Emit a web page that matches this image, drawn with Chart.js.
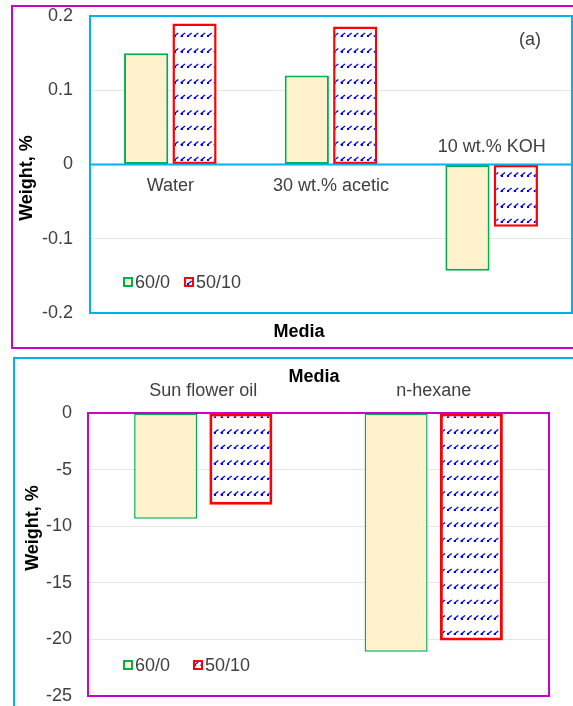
<!DOCTYPE html>
<html>
<head>
<meta charset="utf-8">
<script src="https://cdn.jsdelivr.net/npm/chart.js@4.4.1/dist/chart.umd.min.js"></script>
<style>
  html, body { margin: 0; padding: 0; background: #fff; overflow: hidden; width: 573px; height: 706px; }
  .frame { position: absolute; box-sizing: border-box; border: 2px solid; }
  #frameTop { left: 11px; top: 5px; width: 700px; height: 344px; border-color: #cc00cc; }
  #frameBottom { left: 13px; top: 357px; width: 700px; height: 500px; border-color: #00b0f0; }
  canvas { position: absolute; left: 0; }
  #chartTop { top: 0; }
  #chartBottom { top: 350px; }
</style>
</head>
<body>
<div class="frame" id="frameTop"></div>
<div class="frame" id="frameBottom"></div>
<canvas id="chartTop" width="573" height="350"></canvas>
<canvas id="chartBottom" width="573" height="356"></canvas>
<script>
const FONT = "'Liberation Sans', Arial, sans-serif";
const TEXT = '#404040';

// (a) aqueous media
const mediaTop = ['Water', '30 wt.% acetic', '10 wt.% KOH'];
const top600 = [0.15, 0.12, -0.143];
const top5010 = [0.19, 0.186, -0.084];
const ticksTop = [-0.2, -0.1, 0, 0.1, 0.2];

// oils / solvents
const mediaBottom = ['Sun flower oil', 'n-hexane'];
const bottom600 = [-9.35, -21.1];
const bottom5010 = [-8.1, -20.1];
const ticksBottom = [-25, -20, -15, -10, -5, 0];

const seriesNames = ['60/0', '50/10'];

// blue dash pattern used by the 50/10 bars
function hatch(target) {
  const c = document.createElement('canvas');
  c.width = 20; c.height = 31;
  const g = c.getContext('2d');
  g.fillStyle = '#fff';
  g.fillRect(0, 0, 20, 31);
  g.strokeStyle = '#0000ff';
  g.fillStyle = '#0000ff';
  g.lineWidth = 1.3;
  for (const y0 of [2, 17.5]) {
    for (const x0 of [0.5, 7.2, 13.8]) {
      g.beginPath();
      g.moveTo(x0, y0 + 3.5);
      g.lineTo(x0 + 4.5, y0);
      g.stroke();
      g.fillRect(Math.round(x0), Math.round(y0 + 2), 2, 2);
    }
  }
  return target.getContext('2d').createPattern(c, 'repeat');
}

// frame, zero line, category labels, titles and legend
const decor = {
  id: 'decor',
  afterDatasetsDraw(chart, args, o) {
    const { ctx, chartArea: a, scales: { x, y } } = chart;
    ctx.save();
    const zero = y.getPixelForValue(0);
    if (o.zeroLine) {
      ctx.strokeStyle = o.frame;
      ctx.lineWidth = 2;
      ctx.beginPath();
      ctx.moveTo(a.left, zero);
      ctx.lineTo(a.right, zero);
      ctx.stroke();
    }
    ctx.strokeStyle = o.frame;
    ctx.lineWidth = 2;
    ctx.strokeRect(a.left, a.top, a.right - a.left, a.bottom - a.top);

    ctx.font = `18px ${FONT}`;
    ctx.fillStyle = TEXT;
    ctx.textAlign = 'center';
    ctx.textBaseline = 'middle';
    chart.data.labels.forEach((lab, i) => {
      const vals = chart.data.datasets.map(d => d.data[i]);
      let ly;
      if (o.labelsAbove) ly = a.top - 22;
      else ly = vals.every(v => v < 0) ? zero - 17 : zero + 22;
      ctx.fillText(lab, x.getPixelForValue(i), ly);
    });

    if (o.tag) ctx.fillText(o.tag, o.tagPos[0], o.tagPos[1]);

    ctx.font = `bold 18px ${FONT}`;
    ctx.fillStyle = '#000';
    ctx.fillText('Media', o.mediaPos[0], o.mediaPos[1]);
    ctx.save();
    ctx.translate(o.weightPos[0], o.weightPos[1]);
    ctx.rotate(-Math.PI / 2);
    ctx.fillText('Weight, %', 0, 0);
    ctx.restore();

    // legend
    ctx.font = `18px ${FONT}`;
    ctx.textAlign = 'left';
    chart.data.datasets.forEach((d, i) => {
      const bx = o.legendX[i];
      const by = o.legendY;
      ctx.fillStyle = d.backgroundColor;
      ctx.fillRect(bx, by - 5, 10, 10);
      ctx.strokeStyle = d.borderColor;
      ctx.lineWidth = 2;
      ctx.strokeRect(bx + 1, by - 4, 8, 8);
      ctx.fillStyle = TEXT;
      ctx.fillText(d.label, bx + 12, by + 1);
    });
    ctx.restore();
  }
};

function criarGrafico(canvasId, labels, a, b, ticks, opts) {
  const canvas = document.getElementById(canvasId);
  const min = ticks[0];
  const max = ticks[ticks.length - 1];
  return new Chart(canvas, {
    type: 'bar',
    data: {
      labels: labels,
      datasets: [{
        label: seriesNames[0],
        data: a,
        backgroundColor: '#fff2cc',
        borderColor: '#00b050',
        borderWidth: opts.greenWidth,
        borderSkipped: false
      }, {
        label: seriesNames[1],
        data: b,
        backgroundColor: hatch(canvas),
        borderColor: '#ff0000',
        borderWidth: opts.redWidth,
        borderSkipped: false
      }]
    },
    options: {
      responsive: false,
      animation: false,
      categoryPercentage: opts.catPct,
      barPercentage: opts.barPct,
      layout: { padding: opts.padding },
      scales: {
        x: { display: false },
        y: {
          min: min,
          max: max,
          afterFit: s => {
            s.width = opts.axisWidth;
            s.paddingTop = 0;
            s.paddingBottom = 0;
          },
          afterBuildTicks: s => { s.ticks = ticks.map(v => ({ value: v })); },
          ticks: {
            padding: opts.tickPad,
            color: TEXT,
            autoSkip: false,
            font: { family: FONT, size: 18 },
            callback: v => String(+v.toFixed(1))
          },
          grid: {
            drawTicks: false,
            lineWidth: 1,
            color: c => {
              const v = c.tick.value;
              return (v === min || v === max || v === 0) ? 'transparent' : opts.gridColor;
            }
          },
          border: { display: false }
        }
      },
      plugins: {
        legend: { display: false },
        tooltip: { enabled: false },
        decor: opts.decor
      }
    },
    plugins: [decor]
  });
}

criarGrafico('chartTop', mediaTop, top600, top5010, ticksTop, {
  greenWidth: 2, redWidth: 2.5,
  catPct: 0.6025, barPct: 0.913,
  padding: { left: 0, right: 1, top: 16, bottom: 37 },
  axisWidth: 90, tickPad: 17,
  gridColor: '#e3ecdb',
  decor: {
    frame: '#00b0f0', zeroLine: true, labelsAbove: false,
    tag: '(a)', tagPos: [530, 40],
    mediaPos: [299, 332], weightPos: [27, 178],
    legendX: [123, 184], legendY: 282
  }
});

criarGrafico('chartBottom', mediaBottom, bottom600, bottom5010, ticksBottom, {
  greenWidth: 1.5, redWidth: 3,
  catPct: 0.653, barPct: 0.837,
  padding: { left: 0, right: 24, top: 63, bottom: 10 },
  axisWidth: 88, tickPad: 16,
  gridColor: '#e6e6e6',
  decor: {
    frame: '#cc00cc', zeroLine: false, labelsAbove: true,
    tag: '', tagPos: [0, 0],
    mediaPos: [314, 27], weightPos: [33, 178],
    legendX: [123, 193], legendY: 315
  }
});
</script>
</body>
</html>
